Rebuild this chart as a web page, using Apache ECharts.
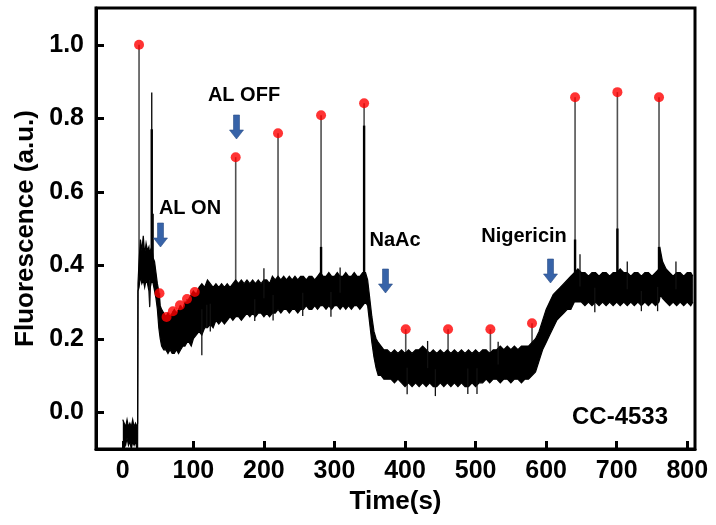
<!DOCTYPE html>
<html>
<head>
<meta charset="utf-8">
<script src="https://cdn.jsdelivr.net/npm/echarts@6/dist/echarts.min.js"></script>
<style>
html,body{margin:0;padding:0;background:#fff}
#chart{width:716px;height:525px}
</style>
</head>
<body>
<div id="chart"></div>
<script>
// Axis ticks
const xTicks = [0, 100, 200, 300, 400, 500, 600, 700, 800];
const yTicks = [0.0, 0.2, 0.4, 0.6, 0.8, 1.0];

// Fluorescence trace: lower and upper edge of the noise band over time (s)
const traceTime = [0,2,4,6,8,10,12,14,16,18,20,21,21.5,23,25,27,29,31,33,35,37,38,39,41,43,45,47,49,51,53,55,58,61,64,67,70,73,76,79,82,85,88,91,94,97,100,104,108,112,116,120,124,128,132,136,140,144,148,152,156,160,164,168,172,176,180,184,188,192,196,200,204,208,212,216,220,224,228,232,236,240,244,248,252,256,260,264,268,272,276,280,284,288,292,296,300,304,308,312,316,320,324,328,332,336,340,344,347,350,353,356,359,362,366,370,375,380,385,390,395,400,405,410,415,420,425,430,435,440,445,450,455,460,465,470,475,480,485,490,495,500,505,510,515,520,525,530,535,540,545,550,555,560,565,570,575,580,585,590,595,600,605,610,615,620,625,630,635,640,645,650,655,660,665,670,675,680,685,690,695,700,705,710,715,720,725,730,735,740,745,750,755,760,762,765,770,775,780,785,790,795,800,805,808];
const traceLow = [-0.10,-0.08,-0.09,-0.07,-0.09,-0.08,-0.10,-0.08,-0.09,-0.08,-0.10,-0.10,0.33,0.34,0.37,0.35,0.36,0.34,0.36,0.35,0.33,0.29,0.34,0.36,0.35,0.33,0.31,0.28,0.23,0.20,0.18,0.17,0.17,0.16,0.17,0.16,0.16,0.17,0.16,0.17,0.18,0.18,0.19,0.19,0.18,0.20,0.21,0.22,0.21,0.23,0.23,0.24,0.23,0.25,0.24,0.25,0.24,0.25,0.26,0.25,0.26,0.26,0.25,0.26,0.27,0.26,0.27,0.26,0.27,0.27,0.26,0.27,0.26,0.27,0.27,0.28,0.27,0.28,0.28,0.27,0.28,0.28,0.27,0.28,0.28,0.29,0.28,0.28,0.29,0.28,0.29,0.29,0.28,0.29,0.28,0.29,0.29,0.28,0.29,0.28,0.29,0.28,0.29,0.29,0.28,0.29,0.30,0.29,0.24,0.19,0.15,0.12,0.10,0.10,0.09,0.09,0.09,0.08,0.09,0.08,0.07,0.08,0.07,0.08,0.07,0.08,0.07,0.08,0.07,0.07,0.08,0.07,0.08,0.07,0.08,0.07,0.08,0.07,0.07,0.08,0.07,0.08,0.08,0.09,0.08,0.09,0.09,0.08,0.09,0.09,0.08,0.09,0.09,0.08,0.09,0.09,0.10,0.11,0.14,0.17,0.19,0.21,0.23,0.25,0.26,0.27,0.28,0.28,0.30,0.30,0.30,0.29,0.30,0.29,0.30,0.29,0.30,0.29,0.30,0.29,0.30,0.29,0.30,0.29,0.30,0.29,0.30,0.29,0.30,0.29,0.30,0.29,0.30,0.32,0.31,0.30,0.29,0.30,0.29,0.30,0.29,0.30,0.29,0.30];
const traceHigh = [-0.02,-0.03,-0.04,-0.02,-0.04,-0.03,-0.04,-0.02,-0.04,-0.03,-0.04,-0.03,0.35,0.41,0.47,0.44,0.48,0.43,0.46,0.44,0.45,0.43,0.44,0.45,0.42,0.41,0.38,0.35,0.33,0.29,0.28,0.27,0.26,0.27,0.26,0.27,0.28,0.27,0.28,0.29,0.28,0.30,0.30,0.31,0.32,0.33,0.32,0.34,0.35,0.34,0.36,0.35,0.34,0.35,0.34,0.35,0.34,0.35,0.34,0.35,0.36,0.35,0.36,0.35,0.36,0.35,0.36,0.35,0.36,0.35,0.36,0.36,0.35,0.37,0.36,0.37,0.36,0.37,0.36,0.37,0.36,0.37,0.36,0.37,0.37,0.36,0.37,0.37,0.36,0.37,0.38,0.37,0.37,0.38,0.37,0.37,0.38,0.37,0.37,0.38,0.37,0.37,0.38,0.37,0.37,0.38,0.38,0.36,0.31,0.26,0.22,0.20,0.19,0.18,0.17,0.17,0.16,0.17,0.16,0.17,0.16,0.17,0.16,0.17,0.17,0.18,0.17,0.16,0.17,0.16,0.17,0.16,0.17,0.16,0.17,0.16,0.17,0.16,0.17,0.16,0.17,0.16,0.17,0.17,0.16,0.17,0.17,0.18,0.17,0.18,0.17,0.18,0.17,0.18,0.18,0.18,0.19,0.20,0.22,0.25,0.28,0.30,0.32,0.33,0.34,0.35,0.36,0.37,0.38,0.39,0.38,0.38,0.37,0.38,0.38,0.37,0.38,0.38,0.37,0.38,0.38,0.39,0.38,0.38,0.37,0.38,0.38,0.37,0.38,0.38,0.37,0.38,0.39,0.44,0.41,0.39,0.38,0.37,0.38,0.38,0.37,0.38,0.38,0.37];

// Calibration pulses: time (s) and peak value (red markers)
const peakTime  = [23, 52, 62, 71, 81, 91, 102, 160, 220, 281, 342, 401, 461, 521, 580, 641, 701, 760];
const peakValue = [1.0, 0.324, 0.259, 0.275, 0.291, 0.308, 0.327, 0.694, 0.759, 0.808, 0.841, 0.226, 0.226, 0.226, 0.242, 0.857, 0.871, 0.857];

// Unmarked pulses right after the first one
const extraSpikeTime  = [41, 43];
const extraSpikeValue = [0.87, 0.54];

// Dense lower part of the larger pulses
const coreTime  = [41, 281, 342, 641, 701, 760];
const coreValue = [0.77, 0.45, 0.78, 0.47, 0.50, 0.45];

// Isolated noise excursions beyond the band
const whiskerTime  = [38, 112, 119, 124, 187, 200, 213, 255, 295, 308, 403, 432, 443, 489, 502, 532, 648, 669, 715, 735, 758, 784];
const whiskerValue = [0.286, 0.155, 0.23, 0.22, 0.248, 0.392, 0.25, 0.262, 0.26, 0.394, 0.049, 0.194, 0.044, 0.05, 0.05, 0.192, 0.43, 0.272, 0.41, 0.275, 0.275, 0.41];

// Treatment annotations
const eventLabels = ['AL ON', 'AL OFF', 'NaAc', 'Nigericin'];
const strainLabel = 'CC-4533';

const FONT = '"Liberation Sans", Arial, sans-serif';

function midAt(t) {
  for (let i = 1; i < traceTime.length; i++) {
    if (t <= traceTime[i]) {
      const t0 = traceTime[i - 1], t1 = traceTime[i];
      const f = (t - t0) / (t1 - t0);
      const m0 = (traceLow[i - 1] + traceHigh[i - 1]) / 2;
      const m1 = (traceLow[i] + traceHigh[i]) / 2;
      return m0 + f * (m1 - m0);
    }
  }
  const n = traceTime.length - 1;
  return (traceLow[n] + traceHigh[n]) / 2;
}

function segmentSeries(name, times, values, color, width, z) {
  return {
    name: name,
    type: 'custom',
    coordinateSystem: 'cartesian2d',
    z: z,
    clip: true,
    data: times.map((t, i) => [t, values[i], midAt(t)]),
    renderItem: function (params, api) {
      const a = api.coord([api.value(0), api.value(2)]);
      const b = api.coord([api.value(0), api.value(1)]);
      return {
        type: 'line',
        shape: { x1: a[0], y1: a[1], x2: b[0], y2: b[1] },
        style: { stroke: color, lineWidth: width }
      };
    }
  };
}

const chart = echarts.init(document.getElementById('chart'), null, { renderer: 'canvas' });

const axisCommon = {
  axisLine: { show: true, onZero: false, lineStyle: { color: '#000', width: 3 } },
  axisTick: { show: true, inside: true, length: 8, lineStyle: { color: '#000', width: 3 } },
  splitLine: { show: false },
  axisLabel: { color: '#000', fontSize: 25, fontWeight: 'bold', fontFamily: FONT },
  nameTextStyle: { color: '#000', fontSize: 26, fontWeight: 'bold', fontFamily: FONT }
};

function arrow(cx, tipY, color) {
  const top = tipY - 24;
  return {
    type: 'polygon',
    shape: {
      points: [
        [cx - 3, top], [cx + 3, top], [cx + 3, tipY - 9], [cx + 7, tipY - 9],
        [cx, tipY], [cx - 7, tipY - 9], [cx - 3, tipY - 9]
      ]
    },
    style: { fill: color, stroke: '#2b4f86', lineWidth: 0.6 },
    z: 100
  };
}

function label(text, cx, cy, size) {
  return {
    type: 'text',
    x: cx, y: cy,
    style: {
      text: text, fill: '#000', font: 'bold ' + size + 'px ' + FONT,
      align: 'center', verticalAlign: 'middle'
    },
    z: 100
  };
}

const arrowColor = '#3763a8';

const option = {
  animation: false,
  backgroundColor: '#fff',
  grid: {
    left: 96, right: 21, top: 8, bottom: 76,
    containLabel: false, outerBoundsMode: 'none',
    show: true, borderColor: '#000', borderWidth: 3
  },
  xAxis: Object.assign({}, axisCommon, {
    type: 'value', min: -38, max: 811,
    name: 'Time(s)', nameLocation: 'middle', nameGap: 38,
    axisTick: Object.assign({}, axisCommon.axisTick, { customValues: xTicks }),
    axisLabel: Object.assign({}, axisCommon.axisLabel, { customValues: xTicks, margin: 10 })
  }),
  yAxis: Object.assign({}, axisCommon, {
    type: 'value', min: -0.1, max: 1.1,
    name: 'Fluorescence (a.u.)', nameLocation: 'middle', nameGap: 54,
    axisTick: Object.assign({}, axisCommon.axisTick, { customValues: yTicks }),
    axisLabel: Object.assign({}, axisCommon.axisLabel, {
      customValues: yTicks, margin: 12,
      formatter: v => Number(v).toFixed(1)
    })
  }),
  series: [
    segmentSeries('pulses', peakTime, peakValue, '#505050', 1.6, 2),
    segmentSeries('pulses2', extraSpikeTime, extraSpikeValue, '#111', 1.4, 2),
    {
      name: 'trace',
      type: 'custom',
      coordinateSystem: 'cartesian2d',
      z: 3,
      clip: true,
      data: [[traceTime[0], traceLow[0]]],
      renderItem: function (params, api) {
        const upper = traceTime.map((t, i) => api.coord([t, traceHigh[i]]));
        const lower = traceTime.map((t, i) => api.coord([t, traceLow[i]]));
        const poly = upper.concat(lower.slice().reverse());
        return {
          type: 'group',
          children: [
            { type: 'polygon', shape: { points: poly }, style: { fill: '#000' } },
            { type: 'polyline', shape: { points: upper }, style: { stroke: '#000', lineWidth: 1.2, fill: null } },
            { type: 'polyline', shape: { points: lower }, style: { stroke: '#000', lineWidth: 1.2, fill: null } }
          ]
        };
      }
    },
    segmentSeries('cores', coreTime, coreValue, '#000', 2.4, 4),
    segmentSeries('noise', whiskerTime, whiskerValue, '#111', 1.3, 4),
    {
      name: 'peaks',
      type: 'scatter',
      z: 10,
      symbol: 'circle',
      symbolSize: 10,
      itemStyle: { color: '#ff0000' },
      data: peakTime.map((t, i) => [t, peakValue[i]])
    }
  ],
  graphic: [
    arrow(160.5, 247, arrowColor),
    arrow(236.5, 139, arrowColor),
    arrow(385.5, 293, arrowColor),
    arrow(550.5, 283, arrowColor),
    label(eventLabels[0], 190, 208, 20),
    label(eventLabels[1], 244, 95, 20),
    label(eventLabels[2], 395, 240, 20),
    label(eventLabels[3], 524, 236, 20),
    label(strainLabel, 620, 417, 24)
  ]
};

chart.setOption(option);
</script>
</body>
</html>
